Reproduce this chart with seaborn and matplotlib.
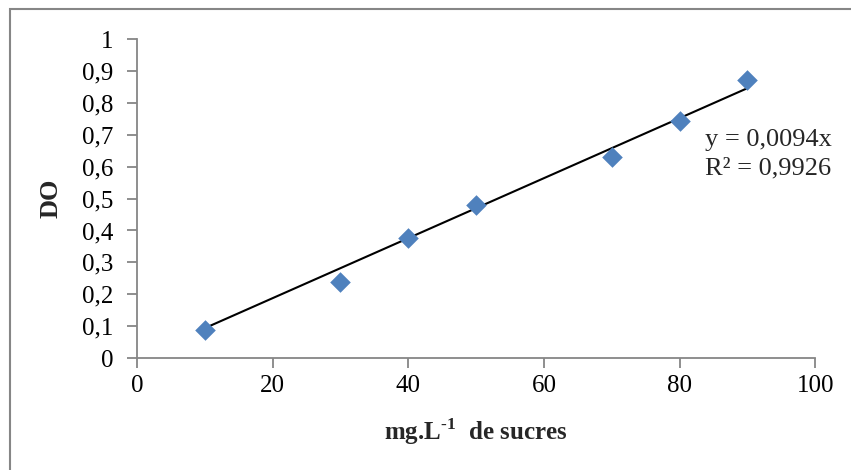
import matplotlib
matplotlib.use("Agg")
import matplotlib.pyplot as plt
import seaborn as sns
import numpy as np
import pandas as pd
from matplotlib.patches import Rectangle
from matplotlib.ticker import FuncFormatter

# Data
concentration = [10, 30, 40, 50, 70, 80, 90]
absorbance = [0.088, 0.238, 0.376, 0.480, 0.630, 0.743, 0.871]
slope = 0.0094
r_squared = 0.9926
x_ticks = [0, 20, 40, 60, 80, 100]
y_ticks = [0, 0.1, 0.2, 0.3, 0.4, 0.5, 0.6, 0.7, 0.8, 0.9, 1.0]

sns.set_style("white")
plt.rcParams["font.family"] = ["Liberation Serif", "DejaVu Serif"]
plt.rcParams["mathtext.fontset"] = "custom"
plt.rcParams["mathtext.rm"] = "Liberation Serif"
plt.rcParams["mathtext.bf"] = "Liberation Serif:bold"

df = pd.DataFrame({"x": concentration, "y": absorbance})

fig = plt.figure(figsize=(8.51, 4.70), dpi=100)
ax = fig.add_axes([0.161, 0.238, 0.797, 0.679])

# linear trendline through the origin (Excel style), over the data range
x_line = np.array([min(concentration), max(concentration)])
ax.plot(x_line, slope * x_line, color="black", linewidth=1.5, zorder=2)

sns.scatterplot(data=df, x="x", y="y", marker="D", s=110, color="#4F81BD",
                linewidth=0, ax=ax, zorder=3)

ax.set_xlim(0, 100)
ax.set_ylim(0, 1)
ax.set_xticks(x_ticks)
ax.set_yticks(y_ticks)
comma = FuncFormatter(lambda v, p: ("%g" % v).replace(".", ","))
ax.xaxis.set_major_formatter(comma)
ax.yaxis.set_major_formatter(comma)

for side in ["top", "right"]:
    ax.spines[side].set_visible(False)
for side in ["left", "bottom"]:
    ax.spines[side].set_color("#868686")
    ax.spines[side].set_linewidth(1.3)

ax.tick_params(axis="both", which="major", direction="out", length=7,
               width=1.3, color="#868686", labelsize=18, labelcolor="black",
               bottom=True, left=True)
ax.tick_params(axis="y", pad=10)
ax.tick_params(axis="x", pad=5)

ax.set_xlabel("mg.L$^{\\mathbf{\u20101}}$  de sucres", fontsize=18,
              fontweight="bold", labelpad=14)
ax.set_ylabel("DO", fontsize=19, fontweight="bold", labelpad=14)

eq = "y = %s" % ("%.4fx" % slope).replace(".", ",")
r2 = "R² = %s" % ("%.4f" % r_squared).replace(".", ",")
ax.text(83.7, 0.683, eq, fontsize=19, va="center", ha="left")
ax.text(83.7, 0.595, r2, fontsize=19, va="center", ha="left")

# chart area border (only left and top visible in the crop)
fig.patches.append(Rectangle((10 / 851, -0.1), 1.2, 1.1 - 9 / 470,
                             transform=fig.transFigure, fill=False,
                             edgecolor="#868686", linewidth=1.5))

fig.savefig("out.png", dpi=100)
